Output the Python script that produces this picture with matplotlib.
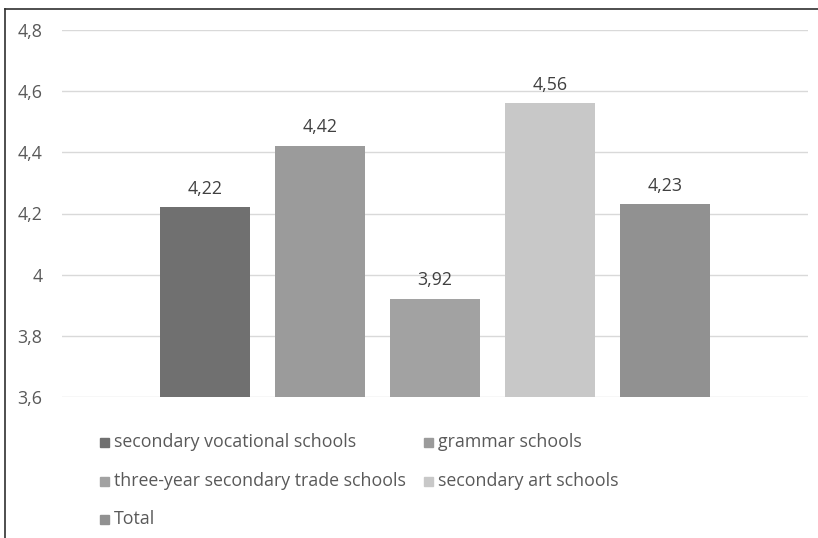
import matplotlib
matplotlib.use("Agg")
import matplotlib.pyplot as plt
from matplotlib.lines import Line2D
from matplotlib.patches import Rectangle

# --[data]---------------------------------------------------------------------
series = ['secondary vocational schools', 'grammar schools',
          'three-year secondary trade schools', 'secondary art schools', 'Total']
values = [4.22, 4.42, 3.92, 4.56, 4.23]
colors = ['#707070', '#9b9b9b', '#a2a2a2', '#c8c8c8', '#919191']
yticks = [3.6, 3.8, 4.0, 4.2, 4.4, 4.6, 4.8]

plt.rcParams['font.family'] = ['Open Sans', 'DejaVu Sans']
text_color = '#595959'
fs = 12.8

# --[figure]-------------------------------------------------------------------
W, H = 818, 538
fig = plt.figure(figsize=(W / 100, H / 100), dpi=100)
ax = fig.add_axes([62 / W, 1 - 397 / H, (808 - 62) / W, (397 - 30) / H])

x = list(range(len(values)))
bars = ax.bar(x, values, width=90 / 115, color=colors, bottom=0, zorder=3)
ax.set_xlim(-143 / 115, 4 + 143 / 115)
ax.set_ylim(3.6, 4.8)

for b, v in zip(bars, values):
    ax.annotate('{:.2f}'.format(v).replace('.', ','),
                (b.get_x() + b.get_width() / 2, v),
                xytext=(0, 7), textcoords='offset points',
                ha='center', va='bottom', fontsize=fs, color='#404040')

ax.set_yticks(yticks)
ax.set_yticklabels(['{:g}'.format(t).replace('.', ',') for t in yticks])
ax.tick_params(axis='y', length=0, pad=14, labelsize=fs, labelcolor=text_color)
ax.set_xticks([])
ax.grid(axis='y', color='#d9d9d9', linewidth=1, zorder=0)
for s in ax.spines.values():
    s.set_visible(False)

# --[legend]-------------------------------------------------------------------
col_x = [100, 424]
row_y = [442, 481, 519]
for i, (name, c) in enumerate(zip(series, colors)):
    lx = col_x[i % 2]
    ly = row_y[i // 2]
    fig.patches.append(Rectangle((lx / W, 1 - (ly + 5) / H), 9 / W, 9 / H,
                                 transform=fig.transFigure, color=c))
    fig.text((lx + 14) / W, 1 - ly / H, name, ha='left', va='center',
             fontsize=fs, color=text_color)

# --[border]-------------------------------------------------------------------
fig.lines.append(Line2D([5 / W, 1], [1 - 9 / H, 1 - 9 / H],
                        transform=fig.transFigure, color='#303030', linewidth=1.2))
fig.lines.append(Line2D([5 / W, 5 / W], [0, 1 - 9 / H],
                        transform=fig.transFigure, color='#303030', linewidth=1.2))

fig.savefig('out.png', dpi=100)
